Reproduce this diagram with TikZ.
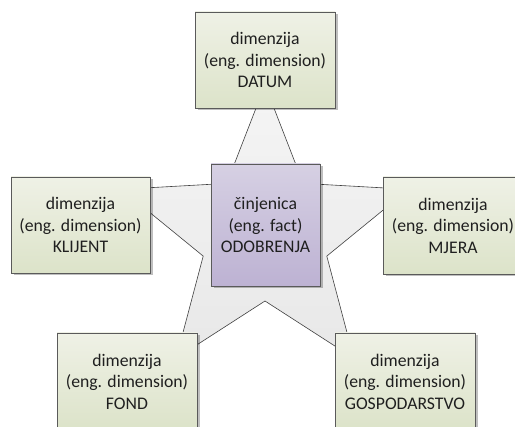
\documentclass[tikz,border=0pt]{standalone}
\usepackage{fontspec}
\setmainfont{Carlito}
\usetikzlibrary{shadows}
\definecolor{dimtop}{HTML}{EFF1E6}
\definecolor{dimbot}{HTML}{DCE3C9}
\definecolor{facttop}{HTML}{D6D0E3}
\definecolor{factbot}{HTML}{BDB2D3}
\definecolor{boxline}{HTML}{5A5A5A}
\definecolor{starline}{HTML}{404040}
\definecolor{txt}{HTML}{1F1F1F}
\tikzset{
  dimbox/.style={draw=boxline, line width=0.7pt, top color=dimtop, bottom color=dimbot,
    minimum width=140pt, minimum height=96pt, inner sep=0pt, align=center,
    text=txt, font=\fontsize{17.7}{21.5}\selectfont,
    drop shadow={shadow xshift=2.5pt, shadow yshift=-2.5pt, opacity=0.25, fill=black}},
  factbox/.style={dimbox, top color=facttop, bottom color=factbot,
    minimum width=109pt, minimum height=122pt},
  starshape/.style={draw=starline, line width=0.6pt, top color=white!96!black, bottom color=white!91!black}
}
\begin{document}
\begin{tikzpicture}[x=1pt,y=-1pt]
\useasboundingbox (0,0) rectangle (515,427);
\clip (0,0) rectangle (515,427);
\fill[white] (0,0) rectangle (515,427);
% star
\path[starshape] (265,85) -- (303.2,183.4) -- (408.6,189.3) -- (326.8,256.1)
  -- (353.8,358.2) -- (265,301) -- (176.2,358.2) -- (203.2,256.1)
  -- (121.4,189.3) -- (226.8,183.4) -- cycle;
% boxes
\node[dimbox] (datum) at (265,60) {dimenzija\\(eng. dimension)\\DATUM};
\node[dimbox, minimum width=139pt] (klijent) at (80.5,225) {dimenzija\\(eng. dimension)\\KLIJENT};
\node[dimbox, minimum height=97pt] (mjera) at (453,225.5) {dimenzija\\(eng. dimension)\\MJERA};
\node[dimbox, minimum height=97pt] (fond) at (127,381.5) {dimenzija\\(eng. dimension)\\FOND};
\node[dimbox, minimum height=97pt] (gosp) at (405,381.5) {dimenzija\\(eng. dimension)\\GOSPODARSTVO};
\node[factbox] (fact) at (265.5,225) {činjenica\\(eng. fact)\\ODOBRENJA};
\end{tikzpicture}
\end{document}
